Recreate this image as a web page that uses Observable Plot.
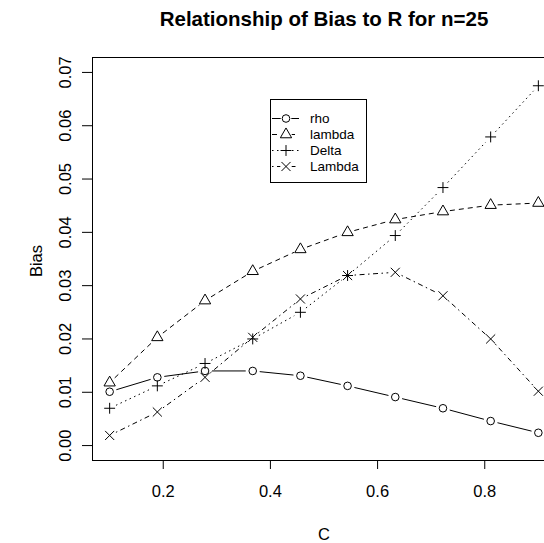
<!DOCTYPE html>
<html><head><meta charset="utf-8">
<script src="https://cdn.jsdelivr.net/npm/d3@7"></script>
<script src="https://cdn.jsdelivr.net/npm/@observablehq/plot@0.6"></script>
<style>
html,body{margin:0;padding:0;background:#fff;overflow:hidden;}
#wrap{position:relative;width:544px;height:543px;overflow:hidden;font-family:"Liberation Sans",Arial,sans-serif;}
#wrap > svg{max-width:none !important;}
#legend{position:absolute;left:270px;top:99px;}
</style></head><body><div id="wrap"></div>
<script>
// ---- data ----
const C = [0.1, 0.189, 0.278, 0.367, 0.456, 0.544, 0.633, 0.722, 0.811, 0.9];
const rho    = [0.0101, 0.0128, 0.0140, 0.0140, 0.0131, 0.0112, 0.0091, 0.0070, 0.0046, 0.0024];
const lambda = [0.0118, 0.0203, 0.0272, 0.0327, 0.0368, 0.0400, 0.0424, 0.0439, 0.0451, 0.0455];
const Delta  = [0.0070, 0.0112, 0.0154, 0.0200, 0.0250, 0.0319, 0.0394, 0.0484, 0.0579, 0.0675];
const Lambda = [0.0019, 0.0063, 0.0128, 0.0203, 0.0275, 0.0319, 0.0325, 0.0281, 0.0200, 0.0102];
const seriesNames = ["rho", "lambda", "Delta", "Lambda"];
const xTicks = [0.2, 0.4, 0.6, 0.8];
const yTicks = [0.00, 0.01, 0.02, 0.03, 0.04, 0.05, 0.06, 0.07];
const titleText = "Relationship of Bias to R for n=25";
const xLabel = "C";
const yLabel = "Bias";

// ---- styles ----
const seriesValues = [rho, lambda, Delta, Lambda];
const symbols = ["circle", "triangle", "plus", "times"];
const d3symbols = [d3.symbolCircle, d3.symbolTriangle, d3.symbolPlus, d3.symbolTimes];
const radii = [3.8, 4.2, 3.6, 4.2];
const dashes = ["none", "5,4", "1.5,3.5", "1.5,3.5,5,3.5"];

const marks = [];
seriesValues.forEach((vals, s) => {
  const pts = C.map((c, i) => ({c, v: vals[i]}));
  const segs = d3.pairs(pts).map(([a, b]) => ({x1: a.c, y1: a.v, x2: b.c, y2: b.v}));
  marks.push(Plot.arrow(segs, {
    x1: "x1", y1: "y1", x2: "x2", y2: "y2", bend: 0, headLength: 0, inset: 7,
    stroke: "black", strokeWidth: 1, strokeDasharray: dashes[s], strokeLinecap: "butt"
  }));
  marks.push(Plot.dot(pts, {x: "c", y: "v", symbol: symbols[s], r: radii[s], stroke: "black", fill: "none", strokeWidth: 1}));
});

const chart = Plot.plot({
  width: 556, height: 543,
  marginTop: 57, marginBottom: 83, marginLeft: 92, marginRight: 1,
  style: {fontFamily: '"Liberation Sans", Arial, sans-serif', fontSize: "16.5px", background: "white", color: "black", maxWidth: "none"},
  x: {domain: [0.068, 0.932]},
  y: {domain: [-0.0028, 0.0728]},
  marks: [
    Plot.frame({stroke: "black"}),
    Plot.axisX({ticks: xTicks, tickSize: 9, tickPadding: 16, tickFormat: d3.format(".1f"), label: null, fontSize: 16.5}),
    Plot.axisY({ticks: yTicks, tickSize: 10, tickPadding: 12, tickRotate: -90, tickFormat: d3.format(".2f"), label: null, fontSize: 16.5}),
    ...marks,
    Plot.text([titleText], {text: d => d, frameAnchor: "top", dy: -32, lineAnchor: "bottom", fontSize: 20.5, fontWeight: "bold"}),
    Plot.text([xLabel], {text: d => d, frameAnchor: "bottom", dy: 79, lineAnchor: "bottom", fontSize: 16.5}),
    Plot.text([yLabel], {text: d => d, frameAnchor: "left", textAnchor: "middle", rotate: -90, dx: -51, dy: 2, lineAnchor: "bottom", fontSize: 16.5})
  ]
});
chart.style.maxWidth = "none";
document.getElementById("wrap").appendChild(chart);

// ---- legend ----
const lw = 96, lh = 83;
const leg = d3.select("#wrap").append("svg").attr("id", "legend")
  .attr("width", lw + 1).attr("height", lh + 1);
leg.append("rect").attr("x", 0.5).attr("y", 0.5).attr("width", lw).attr("height", lh)
  .attr("fill", "white").attr("stroke", "black");
seriesNames.forEach((name, s) => {
  const cy = 19 + 16 * s;
  const g = leg.append("g");
  g.append("line").attr("x1", 2).attr("x2", 29).attr("y1", cy + 0.5).attr("y2", cy + 0.5)
    .attr("stroke", "black").attr("stroke-dasharray", dashes[s] === "none" ? null : dashes[s]);
  g.append("rect").attr("x", 16 - radii[s] - 1.5).attr("y", cy - radii[s] - 1.5)
    .attr("width", 2 * radii[s] + 3).attr("height", 2 * radii[s] + 3).attr("fill", "white");
  g.append("path").attr("d", d3.symbol(d3symbols[s], Math.PI * radii[s] * radii[s])())
    .attr("transform", `translate(16,${cy + 0.5})`).attr("fill", "none").attr("stroke", "black");
  g.append("text").attr("x", 40).attr("y", cy).attr("dy", "0.35em")
    .attr("font-size", "13.5px").attr("font-family", '"Liberation Sans", Arial, sans-serif')
    .text(name);
});
</script>
</body></html>
